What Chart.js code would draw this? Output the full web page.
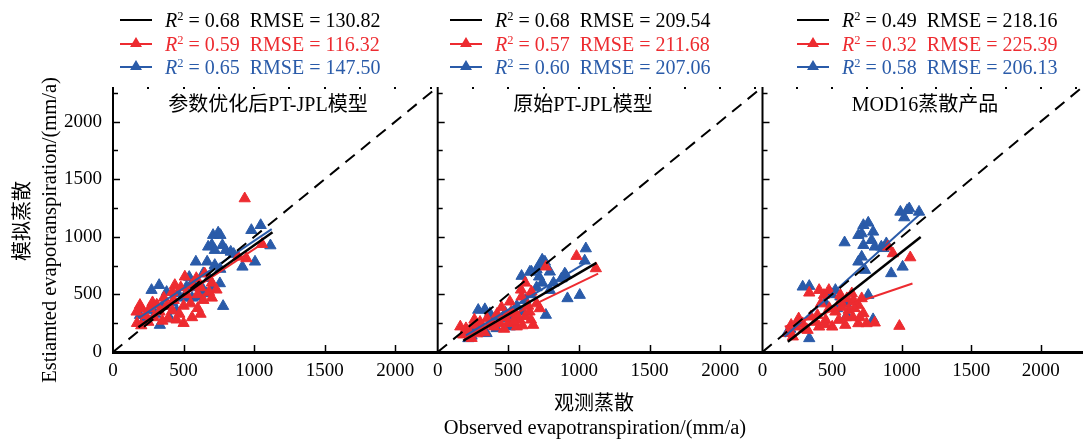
<!DOCTYPE html>
<html>
<head>
<meta charset="utf-8">
<script src="https://cdn.jsdelivr.net/npm/chart.js@4.4.1/dist/chart.umd.min.js"></script>
<style>
  html, body { margin: 0; padding: 0; background: #fff; }
  #wrap { position: relative; width: 1086px; height: 440px; overflow: hidden; background: #fff;
          font-family: "Liberation Serif", "Noto Sans CJK SC", serif; color: #000; }
  canvas { position: absolute; left: 0; top: 0; }
  .txt { position: absolute; white-space: nowrap; font-size: 20px; line-height: 22px; }
  .en { font-size: 20.5px; }
  .center { transform: translate(-50%, -50%); }
  .vert { transform: translate(-50%, -50%) rotate(-90deg); }
  .leg { position: absolute; white-space: nowrap; font-size: 20px; line-height: 24px; height: 24px; }
  .leg sup { font-size: 12.5px; vertical-align: 7px; line-height: 0; }
  .swatch { position: absolute; width: 32px; height: 2px; }
  .tri { position: absolute; left: 10px; top: -6px; width: 0; height: 0;
         border-left: 6px solid transparent; border-right: 6px solid transparent; border-bottom: 10px solid; }
</style>
</head>
<body>
<div id="wrap">
  <canvas id="p0" width="1090" height="440"></canvas>
  <canvas id="p1" width="1090" height="440"></canvas>
  <canvas id="p2" width="1090" height="440"></canvas>
  <div class="txt vert" style="left:22px; top:221px;">模拟蒸散</div>
  <div class="txt en vert" style="left:49px; top:230px;">Estiamted evapotranspiration/(mm/a)</div>
  <div class="txt center" style="left:594px; top:403px;">观测蒸散</div>
  <div class="txt en center" style="left:595px; top:427px;">Observed evapotranspiration/(mm/a)</div>
</div>
<script>
// axis range and ticks (same for every panel)
var axisMax = 2300;
var tickValues = [0, 500, 1000, 1500, 2000];
var majorStep = 500;
var minorStep = 250;

var colAll = '#000000';
var colRed = '#ED2B30';
var colBlue = '#2A5BA9';

var panelTitles = ['参数优化后PT-JPL模型', '原始PT-JPL模型', 'MOD16蒸散产品'];

// legend stats: [all, red, blue]
var statR2 = [['0.68', '0.59', '0.65'], ['0.68', '0.57', '0.60'], ['0.49', '0.32', '0.58']];
var statRMSE = [['130.82', '116.32', '147.50'], ['209.54', '211.68', '207.06'], ['218.16', '225.39', '206.13']];

// fitted lines, end points
var fitAll = [[[180, 215], [1130, 1040]], [[181, 98], [1124, 774]], [[182, 89], [1137, 999]]];
var fitRed = [[[163, 217], [1075, 953]], [[190, 120], [1136, 680]], [[160, 219], [1078, 595]]];
var fitBlue = [[[184, 295], [1124, 1066]], [[200, 145], [1053, 778]], [[158, 133], [1137, 1202]]];

// observed vs estimated, panel 1 (optimised PT-JPL)
var p1Blue = [[1046, 1100], [980, 1057], [1115, 924], [1006, 783], [917, 739], [709, 1014], [745, 1035], [761, 1014],
    [775, 927], [674, 913], [700, 930], [721, 884], [799, 884], [834, 869], [855, 850], [587, 783], [667, 783],
    [721, 754], [760, 720], [639, 682], [680, 640], [757, 595], [521, 566], [560, 600], [600, 560], [273, 537],
    [327, 580], [780, 398], [615, 479], [662, 508], [640, 540], [460, 508], [500, 470], [560, 470], [403, 291],
    [332, 234], [191, 320], [230, 300], [260, 360], [300, 330], [350, 400], [420, 430], [450, 360], [380, 520],
    [540, 650], [700, 560]];
var p1Red = [[933, 1332], [1056, 936], [945, 812], [886, 826], [509, 653], [438, 580], [590, 640], [650, 680],
    [620, 560], [700, 600], [733, 540], [680, 520], [560, 580], [480, 560], [420, 520], [520, 500], [600, 500],
    [191, 407], [167, 349], [200, 380], [260, 380], [310, 410], [330, 350], [380, 400], [420, 360], [470, 330],
    [500, 400], [550, 420], [600, 380], [620, 330], [560, 300], [500, 250], [450, 280], [390, 290], [350, 270],
    [290, 300], [250, 260], [200, 230], [170, 250], [230, 320], [280, 430], [360, 470], [430, 450], [640, 450],
    [700, 470]];

// panel 2 (original PT-JPL)
var p2Blue = [[1049, 898], [1041, 792], [1006, 494], [919, 465], [907, 667], [877, 638], [900, 680], [759, 783],
    [740, 800], [723, 754], [700, 716], [664, 696], [653, 696], [718, 653], [794, 696], [594, 659], [794, 537],
    [820, 600], [287, 364], [334, 370], [370, 335], [766, 321], [417, 305], [480, 340], [520, 310], [560, 300],
    [217, 118], [346, 162], [417, 205], [452, 291], [511, 220], [260, 200], [300, 230], [380, 260], [560, 400],
    [620, 450], [660, 500], [700, 560], [740, 600], [600, 350], [200, 160], [240, 140]];
var p2Red = [[983, 832], [1120, 725], [766, 740], [664, 523], [594, 480], [511, 436], [452, 387], [723, 378],
    [676, 234], [580, 280], [620, 310], [650, 350], [560, 220], [500, 250], [440, 250], [370, 235], [310, 205],
    [250, 235], [200, 205], [160, 220], [220, 180], [280, 160], [330, 170], [400, 220], [480, 300], [520, 350],
    [560, 320], [600, 230], [660, 280], [700, 420], [640, 400], [540, 260], [470, 200], [350, 290], [300, 260],
    [260, 280], [180, 150], [240, 120], [420, 330], [620, 600], [590, 540]];

// panel 3 (MOD16 product)
var p3Blue = [[991, 1216], [1055, 1245], [1125, 1216], [1019, 1167], [1040, 1230], [725, 1100], [760, 1121],
    [795, 1043], [689, 1014], [713, 1028], [590, 950], [725, 927], [784, 970], [807, 913], [854, 913], [890, 942],
    [870, 900], [689, 783], [713, 826], [737, 711], [925, 682], [1007, 739], [289, 566], [336, 572], [524, 537],
    [489, 508], [760, 494], [536, 378], [607, 320], [795, 283], [336, 118], [500, 500], [560, 480], [450, 430],
    [600, 420], [200, 200], [250, 250], [180, 170]];
var p3Red = [[1062, 820], [984, 225], [901, 913], [937, 855], [336, 514], [407, 537], [442, 494], [477, 537],
    [560, 494], [607, 465], [654, 450], [642, 508], [713, 465], [689, 407], [725, 335], [689, 248], [748, 248],
    [807, 254], [595, 234], [548, 277], [501, 219], [454, 277], [395, 320], [348, 306], [289, 248], [242, 219],
    [206, 234], [183, 162], [218, 133], [324, 190], [407, 219], [524, 349], [619, 364], [570, 390], [660, 380],
    [480, 380], [420, 420], [380, 260], [450, 240], [600, 300], [650, 300], [700, 300], [560, 440], [260, 290],
    [300, 200]];

var panelRed = [p1Red, p2Red, p3Red];
var panelBlue = [p1Blue, p2Blue, p3Blue];

// layout in page pixels
var panelLeft = [113, 437.7, 762.5];
var panelRight = [437.7, 762.5, 1087.3];
var legendX = [120, 450, 797];
var titleX = [268, 583, 925];
var canvasW = 1090;

function to_xy(pairs) {
    return pairs.map(function (p) { return {x: p[0], y: p[1]}; });
}

function fixed_ticks(s) {
    s.ticks = tickValues.map(function (v) { return {value: v}; });
}

function plain_label(value) {
    return String(value);
}

var axisDecor = {
    id: 'axisDecor',
    afterDraw: function (chart) {
        var ctx = chart.ctx, a = chart.chartArea, xs = chart.scales.x, ys = chart.scales.y;
        ctx.save();
        ctx.strokeStyle = '#000';
        // left axis
        ctx.lineWidth = 2;
        ctx.beginPath();
        ctx.moveTo(a.left, a.top);
        ctx.lineTo(a.left, a.bottom);
        ctx.stroke();
        // inward y ticks, major and minor
        ctx.lineWidth = 1.5;
        for (var v = minorStep; v < axisMax; v += minorStep) {
            var py = Math.round(ys.getPixelForValue(v)) + 0.5;
            var len = (v % majorStep === 0) ? 7 : 5;
            ctx.beginPath();
            ctx.moveTo(a.left, py);
            ctx.lineTo(a.left + len, py);
            ctx.stroke();
        }
        // inward x ticks
        for (var u = majorStep; u < axisMax; u += majorStep) {
            var px = Math.round(xs.getPixelForValue(u)) + 0.5;
            ctx.beginPath();
            ctx.moveTo(px, a.bottom);
            ctx.lineTo(px, a.bottom - 7);
            ctx.stroke();
        }
        // small marks along the open top edge
        ctx.lineWidth = 2;
        for (var w = minorStep; w < axisMax; w += minorStep) {
            var qx = Math.round(xs.getPixelForValue(w));
            ctx.beginPath();
            ctx.moveTo(qx, a.top);
            ctx.lineTo(qx, a.top + 2);
            ctx.stroke();
        }
        ctx.restore();
    }
};

function make_panel(i) {
    var tickFont = {family: '"Liberation Serif", serif', size: 19};
    var lineSet = function (pts, color, width, order) {
        return {
            data: to_xy(pts), showLine: true, borderColor: color, borderWidth: width,
            pointRadius: 0, fill: false, order: order
        };
    };
    var pointSet = function (pts, color, order) {
        return {
            data: to_xy(pts), showLine: false, pointStyle: 'triangle', pointRadius: 6.5,
            backgroundColor: color, borderColor: color, borderWidth: 1, order: order
        };
    };
    var oneToOne = [[0, 0], [axisMax, axisMax]];
    var ds = [
        pointSet(panelBlue[i], colBlue, 6),
        pointSet(panelRed[i], colRed, 5),
        lineSet(fitBlue[i], colBlue, 2, 4),
        lineSet(fitRed[i], colRed, 2, 3),
        lineSet(fitAll[i], colAll, 2.5, 2),
        Object.assign(lineSet(oneToOne, '#000', 2, 1), {borderDash: [12, 8]})
    ];
    new Chart(document.getElementById('p' + i), {
        type: 'scatter',
        data: {datasets: ds},
        options: {
            responsive: false,
            animation: false,
            devicePixelRatio: 1,
            layout: {
                padding: {top: 87, bottom: 0, left: i === 0 ? 0 : panelLeft[i], right: canvasW - panelRight[i]}
            },
            plugins: {legend: {display: false}, tooltip: {enabled: false}},
            scales: {
                x: {
                    type: 'linear', min: 0, max: axisMax,
                    afterBuildTicks: fixed_ticks,
                    ticks: {font: tickFont, color: '#000', padding: 8, maxRotation: 0, autoSkip: false, callback: plain_label},
                    grid: {display: false, drawTicks: false},
                    border: {display: true, color: '#000', width: 3},
                    afterFit: function (s) { s.height = 88; }
                },
                y: {
                    type: 'linear', min: 0, max: axisMax, display: i === 0,
                    afterBuildTicks: fixed_ticks,
                    ticks: {font: tickFont, color: '#000', padding: 11, autoSkip: false, callback: plain_label},
                    grid: {display: false, drawTicks: false},
                    border: {display: false},
                    afterFit: function (s) { s.width = i === 0 ? panelLeft[0] : 0; }
                }
            }
        },
        plugins: [axisDecor]
    });
}

function add_text(html, cls, left, top) {
    var d = document.createElement('div');
    d.className = cls;
    d.style.left = left + 'px';
    d.style.top = top + 'px';
    d.innerHTML = html;
    document.getElementById('wrap').appendChild(d);
    return d;
}

function add_legend(i) {
    var colors = [colAll, colRed, colBlue];
    var rowY = [20, 43.5, 67];
    for (var k = 0; k < 3; k++) {
        var sw = add_text('', 'swatch', legendX[i], rowY[k] - 1);
        sw.style.background = colors[k];
        if (k > 0) {
            var t = document.createElement('div');
            t.className = 'tri';
            t.style.borderBottomColor = colors[k];
            sw.appendChild(t);
        }
        var row = add_text('<i>R</i><sup>2</sup> = ' + statR2[i][k] + '&nbsp;&nbsp;RMSE = ' + statRMSE[i][k],
            'leg', legendX[i] + 45, rowY[k] - 12);
        row.style.color = colors[k];
    }
    add_text(panelTitles[i], 'txt center', titleX[i], 104);
}

for (var i = 0; i < 3; i++) {
    make_panel(i);
    add_legend(i);
}
</script>
</body>
</html>
